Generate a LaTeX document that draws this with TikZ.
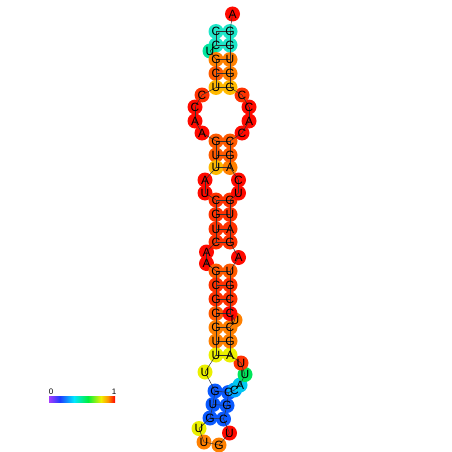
\documentclass[tikz,border=0pt]{standalone}
\usepackage{fontspec}
\setmainfont{Liberation Sans}
\usepackage{xcolor}
\usetikzlibrary{calc}
\definecolor{cTeal}{RGB}{30,230,200}
\definecolor{cTealG}{RGB}{0,230,160}
\definecolor{cOr}{RGB}{255,128,0}
\definecolor{cOrR}{RGB}{255,90,0}
\definecolor{cRedO}{RGB}{255,50,0}
\definecolor{cRed}{RGB}{255,10,0}
\definecolor{cYO}{RGB}{255,185,0}
\definecolor{cYel}{RGB}{235,240,0}
\definecolor{cBlue}{RGB}{10,90,255}
\definecolor{cSky}{RGB}{0,165,255}
\definecolor{cCyan}{RGB}{0,200,240}
\definecolor{cGrn}{RGB}{0,230,90}
\definecolor{sPur}{RGB}{165,60,255}
\definecolor{sBlu}{RGB}{30,60,255}
\definecolor{sCya}{RGB}{0,230,255}
\definecolor{sGrn}{RGB}{0,240,60}
\definecolor{sYel}{RGB}{240,240,0}
\definecolor{sOra}{RGB}{255,150,0}
\definecolor{sRed}{RGB}{255,0,0}
\newcommand\ntlist{%
  1/216/31.5/C/cTeal, 2/216/45/C/cTeal, 3/210/51/U/cTealG, 4/216/59.5/G/cOr,
  5/216/73.5/C/cOrR, 6/216/87.5/U/cYO, 7/202/95/C/cRedO, 8/195/107/C/cRed,
  9/195/121/A/cRed, 10/202/133/A/cRed, 11/216/141/G/cOrR, 12/216/155/U/cOrR,
  13/216/167.5/U/cYO, 14/205/180/A/cRed, 15/205/193/U/cRed, 16/216/200/C/cRedO,
  17/216/214.5/G/cRedO, 18/216/229/U/cRedO, 19/216/242/C/cRedO, 20/206.5/252/A/cRed,
  21/206.5/263.5/A/cRed, 22/216/271/G/cOrR, 23/216/285/C/cRedO, 24/216/299/G/cRedO,
  25/216/313.5/G/cOrR, 26/216/327.5/G/cOr, 27/216/341/U/cOr, 28/216/355/U/cYel,
  29/205/372/U/cYel, 30/215/391/G/cBlue, 31/213/404.5/U/cBlue, 32/210/418/G/cBlue,
  33/199/428.5/U/cYel, 34/204/442/U/cOr, 35/219/445/G/cOr, 36/229.5/433/U/cRed,
  37/223.5/419/C/cBlue, 38/227/405.5/G/cBlue, 39/228.5/392.5/C/cBlue, 40/234.5/390/C/cSky,
  41/240/385/A/cCyan, 42/245/374.5/U/cGrn, 43/241/363/U/cRedO, 44/230/355/A/cYel,
  45/230/341/G/cOr, 46/230/327.5/C/cOr, 47/235/320/U/cOr, 48/230/313.5/C/cRed,
  49/230/299/C/cRedO, 50/230/285/G/cRedO, 51/230/271/U/cOrR, 52/238.5/257.5/A/cRed,
  53/230/242/G/cRedO, 54/230/229/A/cRedO, 55/230/214.5/U/cRedO, 56/230/200/G/cRedO,
  57/238.5/193/U/cRed, 58/238.5/180/C/cRed, 59/230/167.5/A/cOr, 60/230/155/G/cOrR,
  61/230/141/C/cOrR, 62/242/133/C/cRed, 63/249/121/A/cRed, 64/249/107/C/cRed,
  65/242/95/C/cRedO, 66/230/87.5/G/cYO, 67/230/73.5/G/cOr, 68/230/59.5/U/cOr,
  69/230/45/G/cTeal, 70/230/31.5/G/cTeal, 71/232.5/14/A/cRed}
\tikzset{
  ntdisc/.style={circle,minimum size=15pt,inner sep=0pt},
  ntletter/.style={inner sep=0pt,font=\fontsize{12}{12}\selectfont},
  bond/.style={black!80,line width=0.5pt},
}
\begin{document}
\begin{tikzpicture}[x=1pt,y=-1pt,line join=round]
  \useasboundingbox (0,0) rectangle (452,452);
  \foreach \i/\x/\y/\b/\c in \ntlist
    \node[ntdisc,fill=\c] (n\i) at (\x,\y) {};
  \foreach \i [evaluate=\i as \j using int(\i+1)] in {1,...,70}
    \draw[bond] (n\i.center) -- (n\j.center);
  \foreach \a/\b in {1/70,2/69,4/68,5/67,6/66,11/61,12/60,13/59,16/56,17/55,
    18/54,19/53,22/51,23/50,24/49,25/48,26/46,27/45,28/44,30/39,31/38,32/37}
    \draw[bond] (n\a.center) -- (n\b.center);
  \foreach \i/\x/\y/\b/\c in \ntlist
    \node[ntletter] (t\i) at (n\i) {\b};
  \shade[left color=sPur,right color=sBlu] (49,396) rectangle (60,402.5);
  \shade[left color=sBlu,right color=sCya] (60,396) rectangle (74,402.5);
  \shade[left color=sCya,right color=sGrn] (74,396) rectangle (88,402.5);
  \shade[left color=sGrn,right color=sYel] (88,396) rectangle (101,402.5);
  \shade[left color=sYel,right color=sOra] (101,396) rectangle (108,402.5);
  \shade[left color=sOra,right color=sRed] (108,396) rectangle (115,402.5);
  \node[font=\fontsize{8}{8}\selectfont] (lbl0) at (51,392) {0};
  \node[font=\fontsize{8}{8}\selectfont] (lbl1) at (114,392) {1};
\end{tikzpicture}
\end{document}
